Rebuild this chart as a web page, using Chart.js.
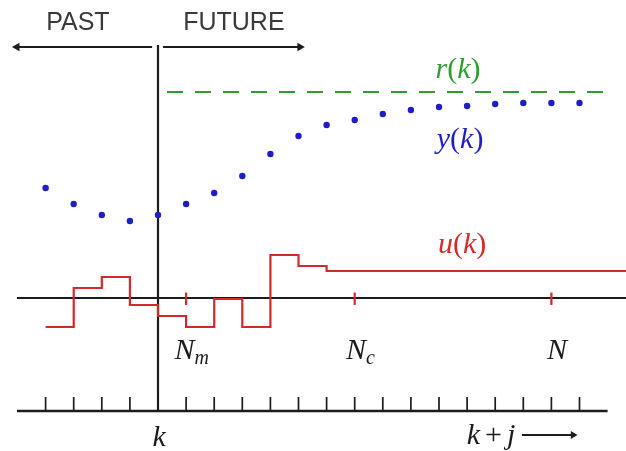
<!DOCTYPE html>
<html>
<head>
<meta charset="utf-8">
<script src="https://cdn.jsdelivr.net/npm/chart.js@4/dist/chart.umd.min.js"></script>
<style>
  html, body { margin: 0; padding: 0; background: #fff; }
  .wrap { width: 626px; height: 451px; position: relative; }
</style>
</head>
<body>
<div class="wrap"><canvas class="mpc"></canvas></div>
<script>
// sample instants j (k = 0), one tick per step
const STEPS = [-4, -3, -2, -1, 0, 1, 2, 3, 4, 5, 6, 7, 8, 9, 10, 11, 12, 13, 14, 15];
// measured / predicted output y(k), one per step
const OUTPUT = [11.0, 9.4, 8.3, 7.7, 8.3, 9.4, 10.5, 12.2, 14.4, 16.2, 17.3, 17.8, 18.4, 18.8, 19.1, 19.2, 19.4, 19.5, 19.5, 19.5];
// control input u(k), piecewise constant from each switch instant
const INPUT_AT = [-4, -3, -2, -1, 0, 1, 2, 3, 4, 5, 6, 16.7];
const INPUT = [-2.9, 1.0, 2.1, -0.7, -1.8, -2.9, -0.1, -2.9, 4.3, 3.2, 2.7, 2.7];
// set point r(k)
const REF_FROM = 0.32;
const REF_TO = 15.9;
const REFERENCE = 20.6;
// horizons
const HORIZONS = [1, 7, 14];
const HORIZON_NAMES = ['N_m', 'N_c', 'N'];

const BLACK = '#1c1c1c';
const RED = '#d42a2a';
const BLUE = '#1e1ec8';
const GREEN = '#2f9e2f';

const AXIS_Y = -11.3;
const TOP_Y = 25.3;
const ARROW_Y = 25.1;

function segments(xs, y0, y1) {
  const out = [];
  xs.forEach(x => { out.push({x: x, y: y0}, {x: x, y: y1}, {x: x, y: null}); });
  return out;
}

function mathRuns(str) {
  const runs = [];
  for (let i = 0; i < str.length; i++) {
    const c = str[i];
    if (c === '_') { runs.push({t: str[i + 1], it: true, sub: true}); i++; continue; }
    runs.push({t: c, it: /[a-zA-Z]/.test(c), sub: false});
  }
  return runs;
}

const LABELS = [
  {text: 'PAST', x: -2.85, y: 27.5, color: '#3a3a3a', sans: true},
  {text: 'FUTURE', x: 2.7, y: 27.5, color: '#3a3a3a', sans: true},
  {text: 'r(k)', x: 10.68, y: 22.8, color: GREEN},
  {text: 'y(k)', x: 10.75, y: 15.8, color: BLUE},
  {text: 'u(k)', x: 10.82, y: 5.3, color: RED},
  {text: 'k', x: 0.04, y: -14.0, color: BLACK},
  {text: 'k + j', x: 11.85, y: -13.8, color: BLACK}
];
HORIZONS.forEach((h, i) => LABELS.push({text: HORIZON_NAMES[i], x: h + 0.2, y: -5.3, color: BLACK}));

const labelPlugin = {
  id: 'mathLabels',
  afterDatasetsDraw(chart) {
    const ctx = chart.ctx;
    const xs = chart.scales.x, ys = chart.scales.y;
    ctx.save();
    ctx.textBaseline = 'middle';
    LABELS.forEach(l => {
      const px = xs.getPixelForValue(l.x), py = ys.getPixelForValue(l.y);
      ctx.fillStyle = l.color;
      if (l.sans) {
        ctx.font = '25px "Liberation Sans", Arial, sans-serif';
        ctx.textAlign = 'center';
        ctx.fillText(l.text, px, py);
        return;
      }
      const runs = mathRuns(l.text).map(r => {
        const size = r.sub ? 20 : 30;
        r.font = (r.it ? 'italic ' : '') + size + 'px "Liberation Serif", "Times New Roman", serif';
        ctx.font = r.font;
        r.w = r.t === ' ' ? 5 : ctx.measureText(r.t).width;
        return r;
      });
      const total = runs.reduce((s, r) => s + r.w, 0);
      let cx = px - total / 2;
      ctx.textAlign = 'left';
      runs.forEach(r => {
        ctx.font = r.font;
        if (r.t !== ' ') ctx.fillText(r.t, cx, py + (r.sub ? 8 : 0));
        cx += r.w;
      });
    });
    ctx.restore();
  }
};

const lineSet = (data, color, width, extra) => Object.assign({
  data: data,
  showLine: true,
  borderColor: color,
  backgroundColor: color,
  borderWidth: width,
  pointRadius: 0,
  spanGaps: false
}, extra || {});

new Chart(document.querySelector('.mpc'), {
  type: 'scatter',
  data: {
    datasets: [
      lineSet(INPUT_AT.map((x, i) => ({x: x, y: INPUT[i]})), RED, 2.2, {stepped: 'before'}),
      lineSet(segments(HORIZONS, 0.55, -0.7), RED, 2.2),
      {
        data: STEPS.map((x, i) => ({x: x, y: OUTPUT[i]})),
        pointRadius: 3.2,
        pointBackgroundColor: BLUE,
        pointBorderWidth: 0,
        showLine: false
      },
      lineSet([{x: REF_FROM, y: REFERENCE}, {x: REF_TO, y: REFERENCE}], GREEN, 2, {borderDash: [16, 12]}),
      lineSet([{x: -5.02, y: 0}, {x: 16.7, y: 0}], BLACK, 2.2),
      lineSet([{x: -5.02, y: AXIS_Y}, {x: 16.0, y: AXIS_Y}], BLACK, 2.5),
      lineSet(segments(STEPS, AXIS_Y, AXIS_Y + 1.4), BLACK, 1.7),
      lineSet([{x: 0, y: TOP_Y}, {x: 0, y: AXIS_Y}], BLACK, 2.2),
      lineSet([{x: -0.21, y: ARROW_Y}, {x: -5.02, y: ARROW_Y}], BLACK, 2, {
        pointRadius: [0, 5], pointStyle: 'triangle', pointRotation: [0, -90], pointBackgroundColor: BLACK, pointBorderWidth: 0
      }),
      lineSet([{x: 0.18, y: ARROW_Y}, {x: 5.05, y: ARROW_Y}], BLACK, 2, {
        pointRadius: [0, 5], pointStyle: 'triangle', pointRotation: [0, 90], pointBackgroundColor: BLACK, pointBorderWidth: 0
      }),
      lineSet([{x: 12.95, y: -13.7}, {x: 14.77, y: -13.7}], BLACK, 2, {
        pointRadius: [0, 4.5], pointStyle: 'triangle', pointRotation: [0, 90], pointBackgroundColor: BLACK, pointBorderWidth: 0
      })
    ]
  },
  options: {
    responsive: true,
    maintainAspectRatio: false,
    animation: false,
    events: [],
    layout: { padding: 0, autoPadding: false },
    plugins: { legend: { display: false }, tooltip: { enabled: false } },
    scales: {
      x: { type: 'linear', display: false, min: -5.623, max: 16.655 },
      y: { type: 'linear', display: false, min: -15.3, max: 29.8 }
    }
  },
  plugins: [labelPlugin]
});
</script>
</body>
</html>
